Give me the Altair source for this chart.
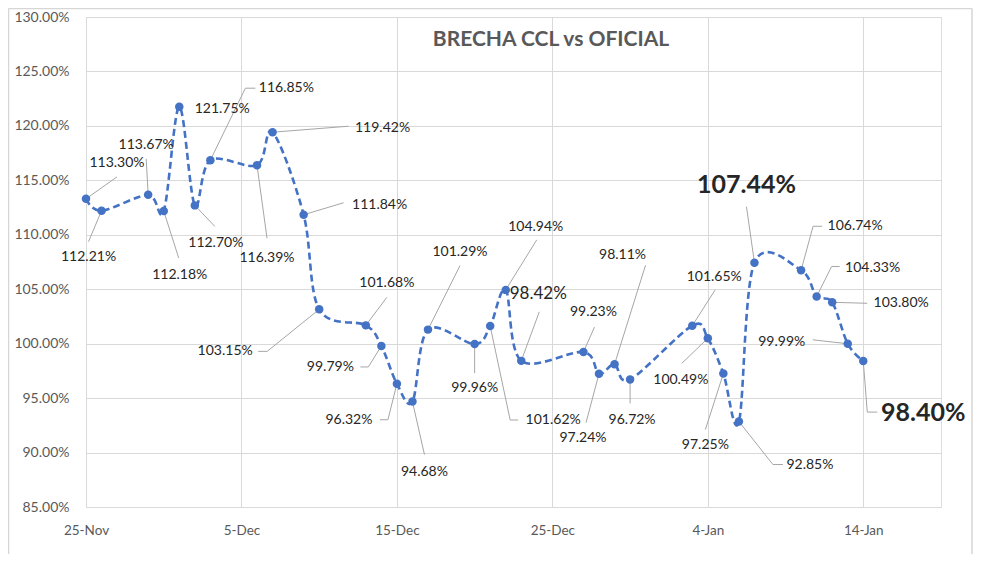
import altair as alt
import pandas as pd

# ---------------- data ----------------
DATES = ["2021-11-25", "2021-11-26", "2021-11-29", "2021-11-30", "2021-12-01", "2021-12-02",
         "2021-12-03", "2021-12-06", "2021-12-07", "2021-12-09", "2021-12-10", "2021-12-13",
         "2021-12-14", "2021-12-15", "2021-12-16", "2021-12-17", "2021-12-20", "2021-12-21",
         "2021-12-22", "2021-12-23", "2021-12-27", "2021-12-28", "2021-12-29", "2021-12-30",
         "2022-01-03", "2022-01-04", "2022-01-05", "2022-01-06", "2022-01-07", "2022-01-10",
         "2022-01-11", "2022-01-12", "2022-01-13", "2022-01-14"]
BRECHA = [113.30, 112.21, 113.67, 112.18, 121.75, 112.70, 116.85, 116.39, 119.42, 111.84,
          103.15, 101.68, 99.79, 96.32, 94.68, 101.29, 99.96, 101.62, 104.94, 98.42,
          99.23, 97.24, 98.11, 96.72, 101.65, 100.49, 97.25, 92.85, 107.44, 106.74,
          104.33, 103.80, 99.99, 98.40]
X_TICKS = [(2021, 11, 25), (2021, 12, 5), (2021, 12, 15), (2021, 12, 25), (2022, 1, 4), (2022, 1, 14)]
Y_TICKS = [85, 90, 95, 100, 105, 110, 115, 120, 125, 130]
TITLE = "BRECHA CCL vs OFICIAL"

# ---------------- label layout (pixel offsets from each point) ----------------
LABEL_OFFSETS = [(31, -36), (-13, 46), (-2, -50), (16, 64), (43, 2), (21, 38), (76, -72),
                 (10, 93), (110, -4), (76, -10), (-94, 42), (21, -42), (-51, 21), (-48, 36),
                 (12, 70), (32, -78), (0, 44), (63, 94), (30, -63), (17, -67), (10, -40),
                 (-16, 64), (8, -109), (2, 41), (22, -49), (-27, 42), (-18, 71), (71, 43),
                 (-8, -78), (54, -44), (56, -29), (69, 1), (-66, -2), (60, 52)]
LEADERS = [[(31, -22)], [(-13, 31)], [(-2, -36)], [(15, 47)], [], [(20, 21)], [(35, -72), (45, -72)],
           [(10, 73)], [(76, -6)], [(40, -12)], [(-52, 42), (-61, 42)], [(21, -28)],
           [(-13, 21), (-21, 21)], [(-9, 36), (-17, 36)], [(12, 53)], [(32, -64)], [(0, 29)],
           [(20, 94), (28, 94)], [(31, -50)], [(18, -49)], [(11, -25)], [(-13, 49)], [(31, -99)],
           [(0, 24)], [(23, -36)], [(-26, 25)], [(-18, 56)], [(34, 43), (44, 43)], [(-8, -56)],
           [(12, -44), (21, -44)], [(15, -30), (23, -30)], [(35, 1)], [(-35, -4)],
           [(4, 51), (14, 51)]]
BIG = [28, 33]
MEDIUM = [19]

W, H = 855, 490
DOMAIN_DAYS = 55
PX_DAY = W / DOMAIN_DAYS
PX_PCT = H / 45.0

FONT = "Lato"
BLUE = "#4472C4"
GRID = "#D9D9D9"

def shifted(i, dx, dy):
    t = pd.Timestamp(DATES[i]) + pd.Timedelta(days=dx / PX_DAY)
    v = BRECHA[i] - dy / PX_PCT
    return t, v

pts = pd.DataFrame({"fecha": pd.to_datetime(DATES), "v": BRECHA})

lab_rows = []
for i, (dx, dy) in enumerate(LABEL_OFFSETS):
    t, v = shifted(i, dx, dy)
    kind = "big" if i in BIG else ("medium" if i in MEDIUM else "normal")
    lab_rows.append({"fecha": t, "v": v, "txt": f"{BRECHA[i]:.2f}%", "kind": kind})
labs = pd.DataFrame(lab_rows)

lead_rows = []
for i, path in enumerate(LEADERS):
    if not path:
        continue
    seq = [(0, 0)] + path
    for k, (dx, dy) in enumerate(seq):
        t, v = shifted(i, dx, dy)
        lead_rows.append({"id": i, "k": k, "fecha": t, "v": v})
leads = pd.DataFrame(lead_rows)

x_scale = alt.Scale(domain=[alt.DateTime(year=2021, month=11, date=25),
                            alt.DateTime(year=2022, month=1, date=19)], nice=False)
y_scale = alt.Scale(domain=[85, 130], nice=False, zero=False)

x_axis = alt.Axis(values=[alt.DateTime(year=a, month=b, date=c) for a, b, c in X_TICKS],
                  format="%-d-%b", title=None, grid=True, gridColor=GRID, domain=False,
                  ticks=False, labelColor="#595959", labelFont=FONT, labelFontSize=13.5,
                  labelPadding=16, labelFlush=False)
y_axis = alt.Axis(values=Y_TICKS, labelExpr="format(datum.value, '.2f') + '%'", title=None,
                  grid=True, gridColor=GRID, domain=False, ticks=False, labelColor="#595959",
                  labelFont=FONT, labelFontSize=14, labelPadding=17)

base_x = alt.X("fecha:T", scale=x_scale, axis=x_axis)
base_y = alt.Y("v:Q", scale=y_scale, axis=y_axis)

line = alt.Chart(pts).mark_line(color=BLUE, strokeWidth=2.6, strokeDash=[7, 4],
                                interpolate="cardinal", tension=0).encode(x=base_x, y=base_y)
dots = alt.Chart(pts).mark_circle(color=BLUE, size=72, opacity=1).encode(
    x=alt.X("fecha:T", scale=x_scale), y=alt.Y("v:Q", scale=y_scale))

leader = alt.Chart(leads).mark_line(color="#A6A6A6", strokeWidth=1).encode(
    x=alt.X("fecha:T", scale=x_scale), y=alt.Y("v:Q", scale=y_scale),
    detail="id:N", order="k:Q")

def label_layer(kind, size, weight):
    return alt.Chart(labs).transform_filter(alt.datum.kind == kind).mark_text(
        font=FONT, fontSize=size, fontWeight=weight, color="#262626",
        align="center", baseline="middle").encode(
        x=alt.X("fecha:T", scale=x_scale), y=alt.Y("v:Q", scale=y_scale), text="txt:N")

title = alt.Chart(pts.head(1)).mark_text(font=FONT, fontSize=21, fontWeight="bold", color="#595959",
                                         align="center", baseline="middle").encode(
    x=alt.value(465), y=alt.value(23), text=alt.value(TITLE))

# decoration: chart frame at the edge (pixels, relative to plot origin)
one = pd.DataFrame({"a": [0]})
def seg(x1, x2, y1, y2):
    return alt.Chart(one).mark_rule(color="#D6D6D6", strokeWidth=1.5).encode(
        x=alt.value(x1), x2=alt.value(x2), y=alt.value(y1), y2=alt.value(y2))

deco = [seg(-77.5, 886, -8.5, -8.5), seg(-77.5, -77.5, -8.5, 560), seg(886, 886, -8.5, 560)]

chart = alt.layer(
    *deco, leader, line, dots,
    label_layer("normal", 14, "normal"),
    label_layer("medium", 17, "normal"),
    label_layer("big", 25, "bold"),
    title,
).properties(
    width=W, height=H,
    autosize=alt.AutoSizeParams(type="none"),
    padding={"left": 78, "top": 9, "right": 32, "bottom": 47},
).configure_view(stroke=None).configure(background="white")

chart.save("out.html", embed_options={"renderer": "svg", "actions": False})
